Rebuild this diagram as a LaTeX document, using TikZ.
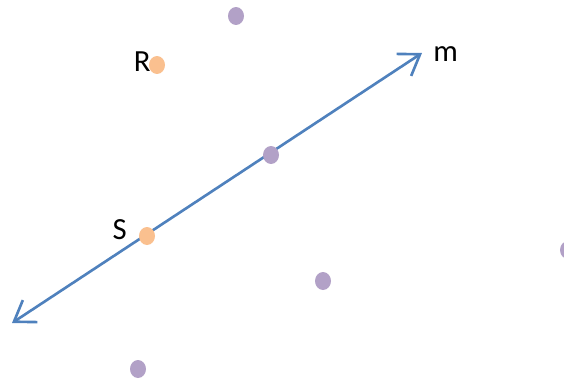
\documentclass[tikz,border=0pt]{standalone}
\usepackage{fontspec}
\setmainfont{Carlito}
\usetikzlibrary{arrows.meta,shapes.geometric}
\definecolor{lineBlue}{HTML}{4F81BD}
\definecolor{dotPurple}{HTML}{B2A1C7}
\definecolor{dotOrange}{HTML}{FAC08F}

\begin{document}
\begin{tikzpicture}[
  x=0.02cm,y=-0.02cm,font=\fontsize{17.5}{20}\selectfont,
  dot/.style={ellipse,fill=dotPurple,inner sep=0pt,minimum width=0.32cm,minimum height=0.36cm},
  mark dot/.style={dot,fill=dotOrange},
  lbl/.style={inner sep=0pt,text=black},
  lineArrow/.style={{Straight Barb[length=11pt,width=15pt]}-{Straight Barb[length=11pt,width=15pt]},line width=1.5pt,draw=lineBlue}
]
\useasboundingbox (0,0) rectangle (564,382);
% line m with both ends open
\coordinate (mlow) at (12,323);
\coordinate (mhigh) at (422,53);
\draw[lineArrow] (mlow) -- (mhigh);
\node[lbl,anchor=west] (mlabel) at (433,54) {m};
% points
\node[dot] (ptop) at (236,16) {};
\node[mark dot] (R) at (157,65) {};
\node[lbl,anchor=east] (Rlabel) at (151,62) {R};
\node[dot] (pmid) at (271,155) {};
\node[mark dot] (S) at (147,236) {};
\node[lbl,anchor=east] (Slabel) at (127,230) {S};
\node[dot] (plow) at (323,281) {};
\node[dot] (pbottom) at (138,369) {};
\node[dot] (pright) at (568,250) {};
\end{tikzpicture}
\end{document}
